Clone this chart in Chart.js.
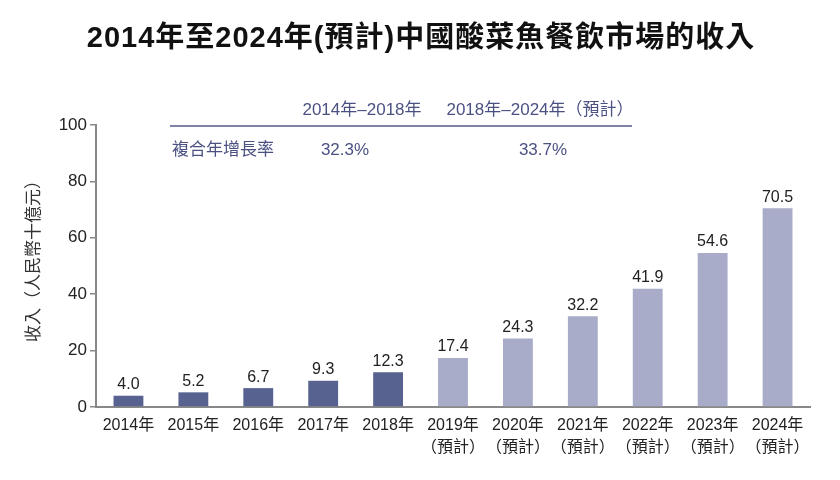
<!DOCTYPE html>
<html>
<head>
<meta charset="utf-8">
<script src="https://cdn.jsdelivr.net/npm/chart.js@4"></script>
<style>
  html, body { margin: 0; padding: 0; background: #fff; }
  #wrap { width: 840px; height: 480px; }
</style>
</head>
<body>
<div id="wrap"><canvas id="chart"></canvas></div>
<script>
const FONT = '"Liberation Sans", "Noto Sans CJK TC", sans-serif';

const years = ['2014年', '2015年', '2016年', '2017年', '2018年', '2019年', '2020年', '2021年', '2022年', '2023年', '2024年'];
const forecast = [false, false, false, false, false, true, true, true, true, true, true];
const revenue = [4.0, 5.2, 6.7, 9.3, 12.3, 17.4, 24.3, 32.2, 41.9, 54.6, 70.5];
const yTicks = [0, 20, 40, 60, 80, 100];
const cagrPeriods = ['2014年–2018年', '2018年–2024年（預計）'];
const cagrValues = ['32.3%', '33.7%'];
const cagrLabel = '複合年增長率';
const titleText = '2014年至2024年(預計)中國酸菜魚餐飲市場的收入';
const yTitle = '收入（人民幣十億元）';

const labels = years.map((y, i) => forecast[i] ? [y, '（預計）'] : y);
const barColors = forecast.map(f => f ? '#a8acc9' : '#586290');

// Draws the title, y-axis title, CAGR table and value labels
const extras = {
    id: 'extras',
    afterDraw(chart) {
        const ctx = chart.ctx;
        ctx.save();

        // Title
        ctx.fillStyle = '#111';
        ctx.font = 'bold 29px ' + FONT;
        ctx.letterSpacing = '1px';
        ctx.textAlign = 'center';
        ctx.textBaseline = 'middle';
        ctx.fillText(titleText, 421, 39);
        ctx.letterSpacing = '0px';

        // Y-axis title
        ctx.save();
        ctx.translate(34, 257);
        ctx.rotate(-Math.PI / 2);
        ctx.fillStyle = '#333';
        ctx.font = '17px ' + FONT;
        ctx.fillText(yTitle, 0, 0);
        ctx.restore();

        // CAGR table
        ctx.fillStyle = '#4b5282';
        ctx.font = '17px ' + FONT;
        ctx.fillText(cagrPeriods[0], 362, 110);
        ctx.fillText(cagrPeriods[1], 540, 110);
        ctx.strokeStyle = '#7e84a6';
        ctx.lineWidth = 2;
        ctx.beginPath();
        ctx.moveTo(170, 126);
        ctx.lineTo(632, 126);
        ctx.stroke();
        ctx.textAlign = 'left';
        ctx.fillText(cagrLabel, 172, 150);
        ctx.textAlign = 'center';
        ctx.fillText(cagrValues[0], 345, 150);
        ctx.fillText(cagrValues[1], 543, 150);

        // Value labels
        ctx.fillStyle = '#222';
        ctx.font = '16px ' + FONT;
        ctx.textBaseline = 'bottom';
        const meta = chart.getDatasetMeta(0);
        meta.data.forEach((bar, i) => {
            ctx.fillText(revenue[i].toFixed(1), bar.x, bar.y - 3);
        });
        ctx.restore();
    }
};

new Chart(document.getElementById('chart'), {
    type: 'bar',
    data: {
        labels: labels,
        datasets: [{
            data: revenue,
            backgroundColor: barColors,
            barPercentage: 0.46,
            categoryPercentage: 1.0
        }]
    },
    options: {
        responsive: true,
        maintainAspectRatio: false,
        animation: false,
        layout: { padding: { top: 125, right: 30, left: 0, bottom: 0 } },
        plugins: {
            legend: { display: false },
            tooltip: { enabled: false }
        },
        scales: {
            x: {
                afterFit: s => { s.height = 73; },
                grid: { display: true, drawOnChartArea: false, drawTicks: false },
                border: { color: '#888', width: 2 },
                ticks: {
                    color: '#222',
                    font: { family: FONT, size: 16, lineHeight: 1.35 },
                    padding: 8,
                    maxRotation: 0,
                    autoSkip: false
                }
            },
            y: {
                min: 0,
                max: 100,
                afterFit: s => { s.width = 96; },
                afterBuildTicks: s => { s.ticks = yTicks.map(v => ({ value: v })); },
                grid: { display: true, drawOnChartArea: false, drawTicks: true, tickLength: 6, color: '#888', lineWidth: 1.5 },
                border: { color: '#888', width: 2 },
                ticks: {
                    color: '#222',
                    font: { family: FONT, size: 17 },
                    padding: 3
                }
            }
        }
    },
    plugins: [extras]
});
</script>
</body>
</html>
